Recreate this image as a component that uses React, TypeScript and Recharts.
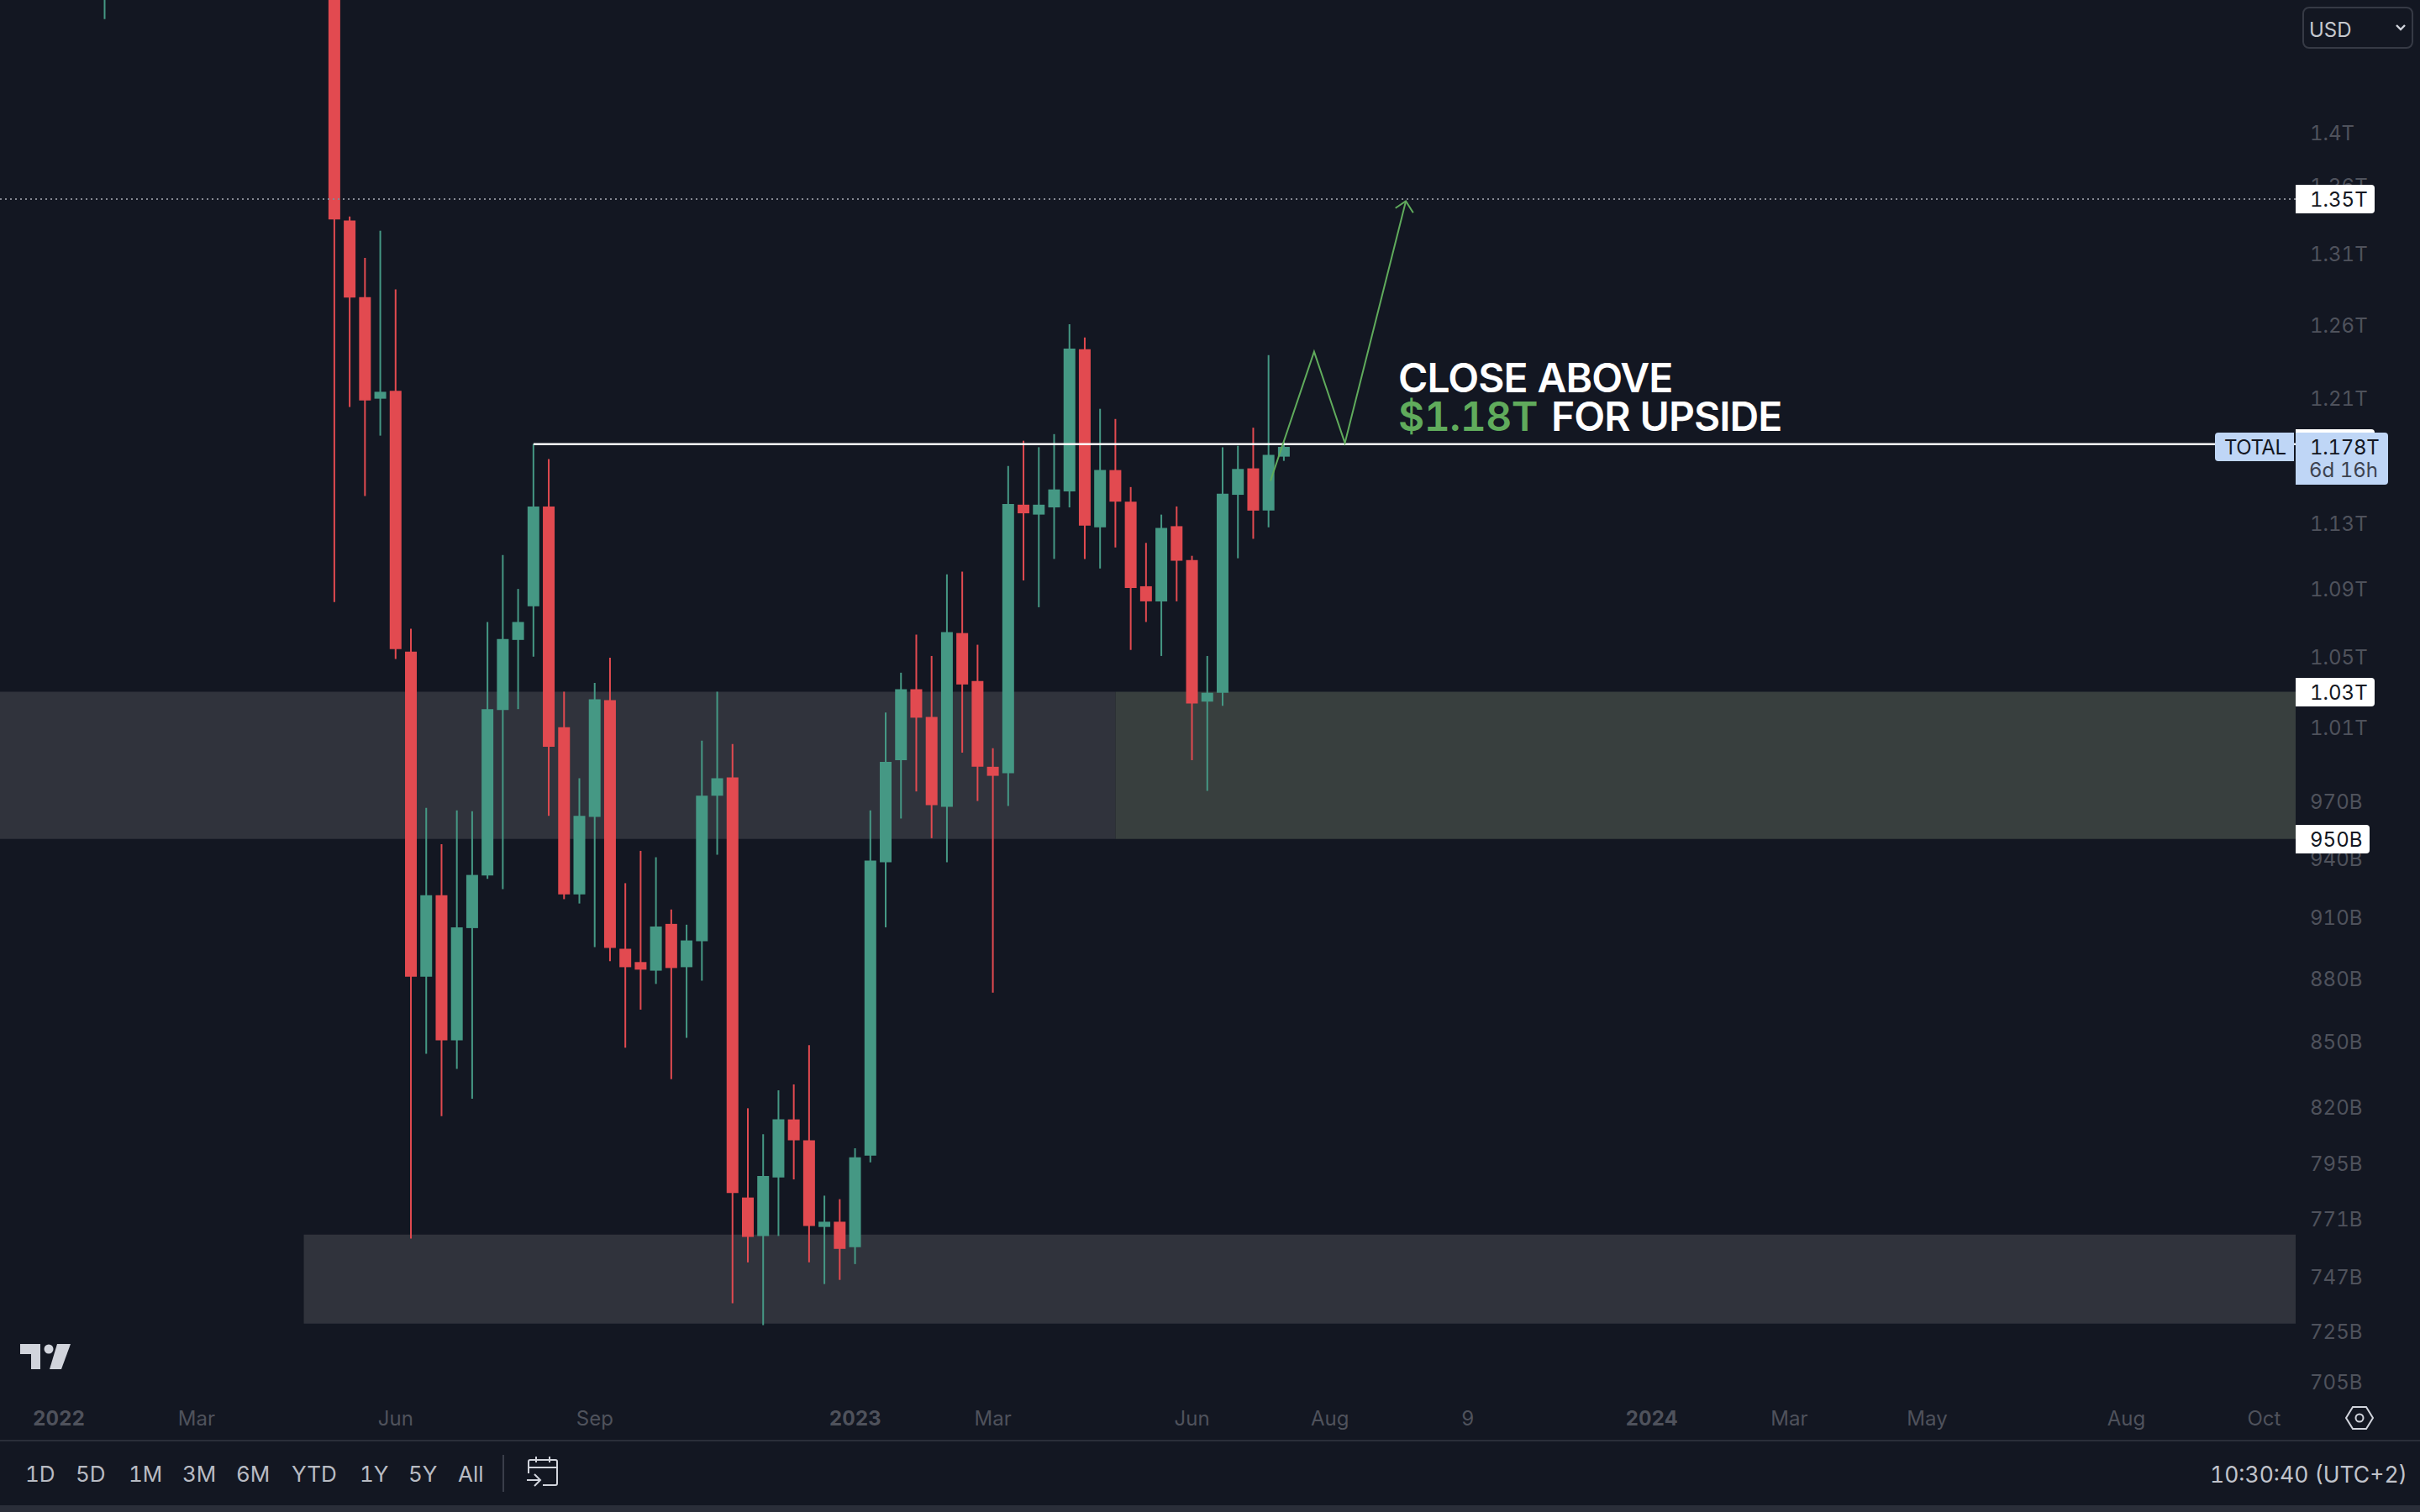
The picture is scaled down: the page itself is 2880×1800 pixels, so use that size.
import {
  Bar,
  Cell,
  ComposedChart,
  Line,
  ReferenceArea,
  ReferenceLine,
  XAxis,
  YAxis,
} from 'recharts'

const BG = '#131722'
const UP = '#459884'
const DOWN = '#e24a50'
const ZONE = '#30333c'
const ZONE_GREEN = '#383f3e'
const GREEN = '#60ab5c'
const AXIS_TEXT = '#4f525c'
const FONT = 'Inter, sans-serif'

// week index from the first candle on screen; prices in billions USD (log scale)
const weeks = [
  0, 15, 16, 17, 18, 19, 20, 21, 22, 23, 24, 25, 26, 27, 28, 29, 30, 31, 32, 33,
  34, 35, 36, 37, 38, 39, 40, 41, 42, 43, 44, 45, 46, 47, 48, 49, 50, 51, 52, 53,
  54, 55, 56, 57, 58, 59, 60, 61, 62, 63, 64, 65, 66, 67, 68, 69, 70, 71, 72, 73,
  74, 75, 76, 77,
]
const opens = [
  1530, 1540, 1334.2, 1279.2, 1209.8, 1215, 1052.9, 880.8, 921.1, 850.5, 904.6, 931.1, 1019.7, 1059.7, 1079.5, 1140.3,
  1010.1, 921.5, 961.6, 1025.2, 894.4, 887.9, 883.7, 906.7, 885.4, 898.1, 972.8, 982.6, 780.2, 763.9, 788.8, 814.4,
  805.1, 767.7, 769.9, 759.2, 798.4, 937.9, 992, 1031.4, 1015.8, 966.9, 1063.7, 1036, 988.4, 984.9, 1141.4, 1135.2,
  1139.7, 1149.8, 1243.1, 1127.3, 1163.3, 1143.3, 1091.4, 1082.4, 1128, 1107.2, 1024.4, 1029.4, 1147.6, 1164.4, 1137.7, 1171.9,
]
const closes = [
  1560, 1334.9, 1278.9, 1208.6, 1214.4, 1054.4, 880.8, 921.1, 850.5, 905, 931.4, 1020.2, 1060.2, 1070.2, 1140.3, 999.3,
  921.5, 962.1, 1025.7, 894.8, 885.4, 884.2, 905.4, 885, 898.5, 972.8, 982.2, 782.1, 763.5, 789.5, 814.4, 805.1,
  768.1, 769.9, 758.5, 797.6, 938.8, 991.1, 1031.4, 1015.4, 967.8, 1064.3, 1034.1, 988.4, 983.5, 1141.8, 1136, 1141.4,
  1151, 1243.6, 1128.4, 1163.3, 1143.3, 1090.4, 1082.4, 1126.9, 1106.8, 1023.4, 1029.4, 1148.3, 1164, 1137.7, 1173.1, 1178.2,
]
const highs = [
  1580, 1560, 1337.1, 1307, 1326.7, 1284.7, 1066.2, 966.4, 947.3, 965, 964.6, 1070.2, 1110.3, 1089.8, 1180.1, 1170.4,
  1030, 982.2, 1035, 1049.4, 927.2, 943.8, 940.5, 913.9, 906.3, 1002.7, 1030, 1000.8, 819.4, 807.8, 827.5, 830.2,
  848.3, 781, 779.5, 801.6, 965, 1018.3, 1040.8, 1062.8, 1050.4, 1098.5, 1100.2, 1056.9, 998.5, 1165.9, 1182.2, 1178,
  1186.5, 1260.3, 1251.1, 1203.1, 1196.4, 1152.5, 1117.7, 1135.2, 1140.3, 1109.8, 1050.4, 1178, 1178.9, 1190.7, 1239.1, 1181.4,
]
const lows = [
  1490.2, 1082, 1204.3, 1146.8, 1185.5, 1048.7, 762.8, 844.3, 815.9, 837.3, 823.7, 929.4, 924.2, 1020.2, 1050, 962.1,
  919.1, 916.9, 895.2, 888.3, 847.1, 865, 877.3, 832.6, 851.7, 878.9, 941.8, 736.2, 752.9, 727.4, 763.9, 788,
  752.9, 744, 745.7, 752.2, 795.4, 905, 960.7, 975.1, 950.4, 937.9, 996.1, 970, 873.1, 967.4, 1094.9, 1078.9,
  1107.9, 1139.7, 1107.9, 1102.1, 1114.9, 1053.9, 1070.2, 1050.4, 1082.4, 992, 975.4, 1022, 1108.3, 1120.2, 1127.3, 1169.2,
]

const candles = weeks.map((week, i) => ({
  week,
  range: [lows[i], highs[i]],
  body: [Math.min(opens[i], closes[i]), Math.max(opens[i], closes[i])],
  up: closes[i] >= opens[i],
}))

const priceTicks = [
  1400, 1360, 1310, 1260, 1210, 1130, 1090, 1050, 1010, 970, 940, 910, 880, 850, 820, 795, 771, 747, 725, 705,
]
const timeTickWeeks = [-3, 6, 19, 32, 49, 58, 71, 80, 89, 101, 110, 119, 132, 141]
const timeTickLabels = ['2022', 'Mar', 'Jun', 'Sep', '2023', 'Mar', 'Jun', 'Aug', '9', '2024', 'Mar', 'May', 'Aug', 'Oct']
const ranges = ['1D', '5D', '1M', '3M', '6M', 'YTD', '1Y', '5Y', 'All']
const rangeLefts = [30, 90, 153, 217, 281, 347, 428, 486, 545]

// the drawn projection
const pathWeeks = [76.12, 78.97, 80.98, 84.96]
const pathPrices = [1156.4, 1241.4, 1180.7, 1348.4]
const headWeeks = [84.28, 84.96, 85.44]
const headPrices = [1343.3, 1348.4, 1339.9]
const projection = pathWeeks.map((week, i) => ({ week, price: pathPrices[i] }))
const arrowHead = headWeeks.map((week, i) => ({ week, price: headPrices[i] }))

const WEEK_MIN = -6.837
const WEEK_MAX = 143.06
const PRICE_MIN = 700.9
const PRICE_MAX = 1505.9

function formatPrice(v: number) {
  return v >= 1000 ? `${v / 1000}T` : `${v}B`
}

function TimeTick({ x, y, payload }: any) {
  const i = timeTickWeeks.indexOf(payload.value)
  const label = timeTickLabels[i]
  return (
    <text
      x={x}
      y={y}
      textAnchor="middle"
      dominantBaseline="central"
      fill={AXIS_TEXT}
      fontFamily={FONT}
      fontSize={24}
      fontWeight={label.length === 4 ? 700 : 400}
    >
      {label}
    </text>
  )
}

function Box({ left, top, width, height, bg, radius, children }: any) {
  return (
    <div
      style={{
        position: 'absolute',
        left,
        top,
        width,
        height,
        background: bg,
        borderRadius: radius,
      }}
    >
      {children}
    </div>
  )
}

function Txt({ left, center, color, size = 24, weight = 400, spacing = 0, children }: any) {
  return (
    <div
      style={{
        position: 'absolute',
        left,
        top: center - 20,
        height: 40,
        lineHeight: '40px',
        color,
        fontFamily: FONT,
        fontSize: size,
        fontWeight: weight,
        letterSpacing: spacing,
        whiteSpace: 'nowrap',
      }}
    >
      {children}
    </div>
  )
}

export default function App() {
  return (
    <div
      style={{
        position: 'fixed',
        left: 0,
        top: 0,
        width: 2880,
        height: 1800,
        background: BG,
        overflow: 'hidden',
        fontVariantNumeric: 'tabular-nums',
      }}
    >
      <ComposedChart
        width={2880}
        height={1715}
        data={candles}
        margin={{ top: 0, right: 0, bottom: 0, left: 0 }}
      >
        <XAxis
          dataKey="week"
          type="number"
          domain={[WEEK_MIN, WEEK_MAX]}
          allowDataOverflow
          ticks={timeTickWeeks}
          interval={0}
          height={57}
          axisLine={false}
          tickLine={false}
          tickSize={0}
          tickMargin={30}
          tick={<TimeTick />}
        />
        <XAxis
          xAxisId="wick"
          dataKey="week"
          type="number"
          domain={[WEEK_MIN, WEEK_MAX]}
          allowDataOverflow
          ticks={timeTickWeeks}
          hide
        />
        <XAxis
          xAxisId="path"
          dataKey="week"
          type="number"
          domain={[WEEK_MIN, WEEK_MAX]}
          allowDataOverflow
          hide
        />
        <YAxis
          orientation="right"
          type="number"
          scale="log"
          domain={[PRICE_MIN, PRICE_MAX]}
          allowDataOverflow
          ticks={priceTicks}
          interval={0}
          width={148}
          axisLine={false}
          tickLine={false}
          tickSize={0}
          tickMargin={17}
          tickFormatter={formatPrice}
          tick={{ fill: AXIS_TEXT, fontSize: 24, fontFamily: FONT, dy: 0.5 }}
        />

        <ReferenceArea x1={WEEK_MIN} x2={66} y1={950} y2={1030} fill={ZONE} fillOpacity={1} stroke="none" />
        <ReferenceArea x1={66} x2={WEEK_MAX} y1={950} y2={1030} fill={ZONE_GREEN} fillOpacity={1} stroke="none" />
        <ReferenceArea x1={13} x2={WEEK_MAX} y1={728} y2={764.5} fill={ZONE} fillOpacity={1} stroke="none" />
        <ReferenceLine y={1350} stroke="#858892" strokeWidth={2} strokeDasharray="2 4" />
        <ReferenceLine
          segment={[
            { x: 28, y: 1180 },
            { x: WEEK_MAX, y: 1180 },
          ]}
          stroke="#ffffff"
          strokeWidth={2.5}
        />
        <Line
          xAxisId="path"
          data={projection}
          dataKey="price"
          stroke={GREEN}
          strokeWidth={2}
          dot={false}
          activeDot={false}
          isAnimationActive={false}
        />
        <Line
          xAxisId="path"
          data={arrowHead}
          dataKey="price"
          stroke={GREEN}
          strokeWidth={2}
          dot={false}
          activeDot={false}
          isAnimationActive={false}
        />

        <Bar xAxisId="wick" dataKey="range" barSize={2} isAnimationActive={false}>
          {candles.map((c) => (
            <Cell key={c.week} fill={c.up ? UP : DOWN} />
          ))}
        </Bar>
        <Bar dataKey="body" barSize={14} isAnimationActive={false}>
          {candles.map((c) => (
            <Cell key={c.week} fill={c.up ? UP : DOWN} />
          ))}
        </Bar>
      </ComposedChart>

      {/* annotation */}
      <Txt left={1664} center={450} color="#ffffff" size={48} weight={600} spacing={-0.95}>
        CLOSE ABOVE
      </Txt>
      <Txt left={1664} center={496} color={GREEN} size={48} weight={600} spacing={-0.5}>
        $1.18T
      </Txt>
      <Txt left={1846} center={496} color="#ffffff" size={48} weight={600} spacing={-0.95}>
        FOR UPSIDE
      </Txt>

      {/* price scale labels */}
      <Box left={2732} top={220} width={94} height={34} bg="#fff" radius="0 4px 4px 0" />
      <Txt left={2749} center={238} color={BG}>1.35T</Txt>
      <Box left={2732} top={807} width={94} height={34} bg="#fff" radius="0 4px 4px 0" />
      <Txt left={2749} center={825} color={BG}>1.03T</Txt>
      <Box left={2732} top={982} width={88} height={34} bg="#fff" radius="0 4px 4px 0" />
      <Txt left={2749} center={1000} color={BG}>950B</Txt>
      <Box left={2732} top={511} width={94} height={20} bg="#fff" radius="0 4px 0 0" />
      <Box left={2732} top={515} width={110} height={62} bg="#bfd6f6" radius="0 4px 4px 0" />
      <Txt left={2749} center={533} color={BG} spacing={-0.3}>1.178T</Txt>
      <Txt left={2748} center={560} color="#3d4350">6d 16h</Txt>
      <Box left={2636} top={515} width={94} height={34} bg="#bfd6f6" radius="4px 0 0 4px" />
      <Txt left={2647} center={533} color={BG} spacing={-0.5}>TOTAL</Txt>

      {/* currency dropdown */}
      <div
        style={{
          position: 'absolute',
          left: 2740,
          top: 8,
          width: 128,
          height: 46,
          border: '2px solid #363a45',
          borderRadius: 8,
        }}
      />
      <Txt left={2748} center={36} color="#c5c8ce">USD</Txt>
      <svg style={{ position: 'absolute', left: 2850, top: 28 }} width={14} height={10}>
        <path d="M2 2 L7 7 L12 2" fill="none" stroke="#d1d4dc" strokeWidth={2.4} />
      </svg>

      {/* logo */}
      <svg style={{ position: 'absolute', left: 20, top: 1596 }} width={70} height={38}>
        <path d="M4 4 H28 V34 H17 V16 H4 Z" fill="#d1d4dc" />
        <circle cx={38} cy={10} r={5.5} fill="#d1d4dc" />
        <path d="M48 4 H64 L53 34 H39 Z" fill="#d1d4dc" />
      </svg>

      {/* settings icon */}
      <svg style={{ position: 'absolute', left: 2790, top: 1672 }} width={36} height={32}>
        <path d="M2 16 L10 3 H26 L34 16 L26 29 H10 Z" fill="none" stroke="#d1d4dc" strokeWidth={2} />
        <circle cx={18} cy={16} r={4.5} fill="none" stroke="#d1d4dc" strokeWidth={2} />
      </svg>

      {/* bottom toolbar */}
      <div style={{ position: 'absolute', left: 0, top: 1714, width: 2880, height: 2, background: '#2a2e39' }} />
      <div style={{ position: 'absolute', left: 0, top: 1792, width: 2880, height: 8, background: '#2a2e39' }} />
      {ranges.map((r, i) => (
        <Txt key={r} left={rangeLefts[i]} center={1755} color="#b8bbc3" size={26}>
          {r}
        </Txt>
      ))}
      <div style={{ position: 'absolute', left: 598, top: 1732, width: 2, height: 44, background: '#3a3e4a' }} />
      <svg style={{ position: 'absolute', left: 624, top: 1732 }} width={44} height={42}>
        <path
          d="M5 22 V8 Q5 6 7 6 H37 Q39 6 39 8 V34 Q39 36 37 36 H22 M5 15 H39 M14 2 V9 M30 2 V9 M3 30 H18 M12 23 L19 30 L12 37"
          fill="none"
          stroke="#d1d4dc"
          strokeWidth={2}
        />
      </svg>
      <Txt left={2630} center={1755} color="#c0c3cb" size={26.5}>
        10:30:40 (UTC+2)
      </Txt>
    </div>
  )
}
